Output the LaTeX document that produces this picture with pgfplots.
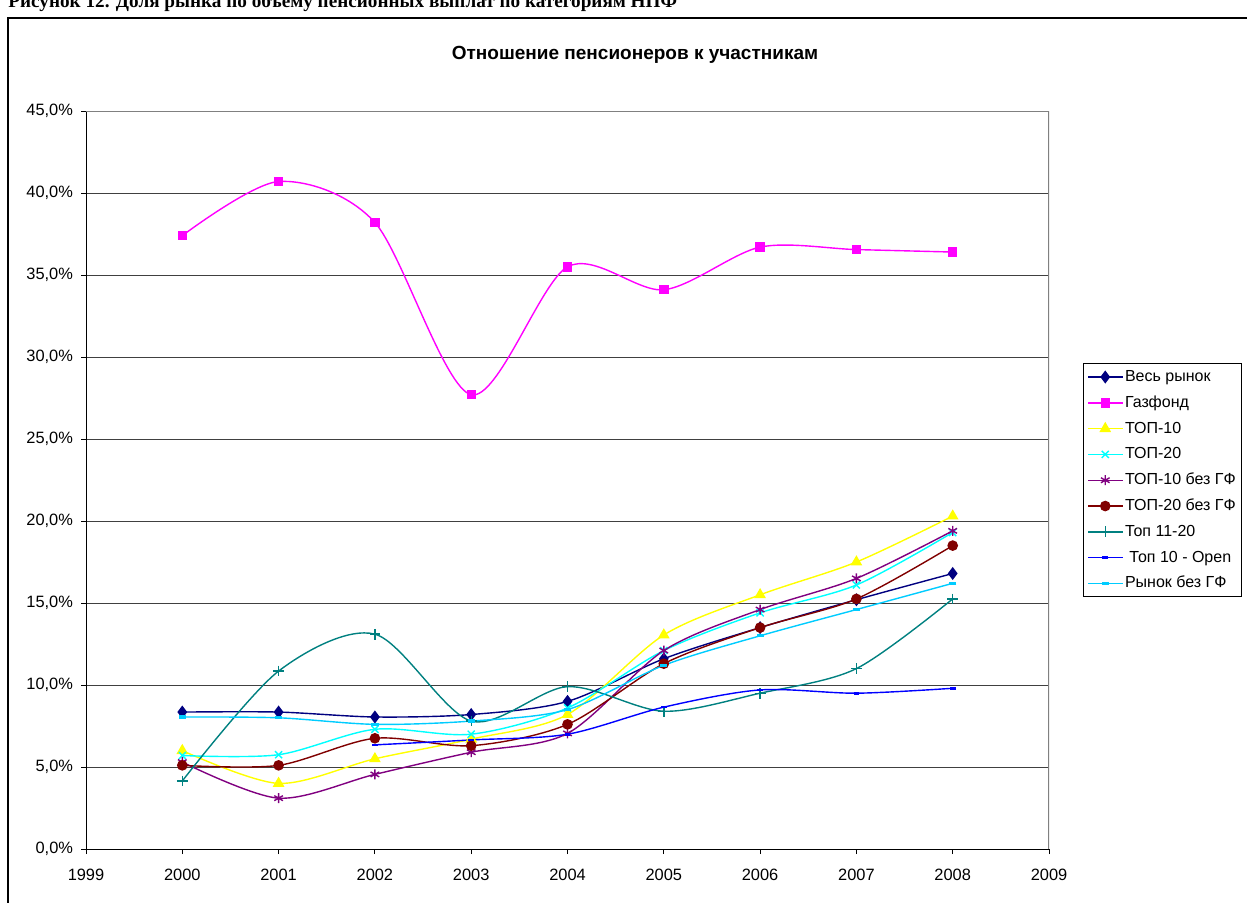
\documentclass[border=0pt]{standalone}
\usepackage{fontspec}
\setmainfont{Liberation Sans}
\newfontfamily\capfont{Liberation Serif}
\usepackage{pgfplots}
\pgfplotsset{compat=1.18}
\definecolor{cNavy}{HTML}{000080}
\definecolor{cMag}{HTML}{FF00FF}
\definecolor{cYel}{HTML}{FFFF00}
\definecolor{cCyan}{HTML}{00FFFF}
\definecolor{cPurp}{HTML}{800080}
\definecolor{cDRed}{HTML}{800000}
\definecolor{cTeal}{HTML}{008080}
\definecolor{cBlue}{HTML}{0000FF}
\definecolor{cSky}{HTML}{00CCFF}
\begin{document}
\begin{tikzpicture}
\useasboundingbox (0pt,0pt) rectangle (623.5pt,-451.5pt);
\clip (0pt,0pt) rectangle (623.5pt,-451.5pt);
\node[anchor=base west,inner sep=0pt,font=\capfont\bfseries\fontsize{9.6pt}{11pt}\selectfont] at (4pt,-3.6pt) {Рисунок 12. Доля рынка по объему пенсионных выплат по категориям НПФ};
\fill[white] (0pt,-7pt) rectangle (623.5pt,-9pt);
\draw[line width=1pt] (4pt,-470pt) -- (4pt,-9pt) -- (640pt,-9pt);
\node[font=\bfseries\fontsize{9.5pt}{10pt}\selectfont] at (317.5pt,-27.3pt) {Отношение пенсионеров к участникам};
\begin{axis}[
  at={(43pt,-424.5pt)}, anchor=south west,
  scale only axis, width=481.5pt, height=369pt,
  xmin=1999, xmax=2009, ymin=0, ymax=45,
  axis x line*=bottom, axis y line*=left,
  axis line style={black, line width=0.5pt},
  tick align=outside, major tick length=2.5pt,
  tick style={black, line width=0.5pt},
  xtick={1999,2000,...,2009},
  xticklabels={1999,2000,2001,2002,2003,2004,2005,2006,2007,2008,2009},
  ytick={0,5,...,45},
  yticklabels={{0,0\%},{5,0\%},{10,0\%},{15,0\%},{20,0\%},{25,0\%},{30,0\%},{35,0\%},{40,0\%},{45,0\%}},
  ticklabel style={font=\fontsize{8.2pt}{9pt}\selectfont},
  xticklabel style={yshift=-3.8pt},
  yticklabel style={xshift=-0.5pt},
  ymajorgrids, major grid style={black!75, line width=0.5pt},
  every axis plot/.append style={line width=0.7pt, smooth, tension=0.5},
  legend style={at={(rel axis cs:1.0353,0.6585)}, anchor=north west,
    draw=black, line width=0.5pt, font=\fontsize{8pt}{9pt}\selectfont,
    nodes={inner sep=1pt, text height=6pt, text depth=1.5pt},
    row sep=3.4pt, inner xsep=2pt, inner ysep=2pt},
  legend cell align=left,
]
\draw[gray, line width=0.7pt] (rel axis cs:0,1) -- (rel axis cs:1,1) -- (rel axis cs:1,0);
\addplot[cNavy, mark=diamond*, mark size=2.7pt, mark options={solid}] coordinates {
(2000,8.35) (2001,8.35) (2002,8.05) (2003,8.2) (2004,9.0) (2005,11.6) (2006,13.5) (2007,15.2) (2008,16.8)};
\addlegendentry{Весь рынок}
\addplot[cMag, mark=square*, mark size=2pt] coordinates {
(2000,37.4) (2001,40.7) (2002,38.2) (2003,27.7) (2004,35.5) (2005,34.1) (2006,36.7) (2007,36.55) (2008,36.4)};
\addlegendentry{Газфонд}
\addplot[cYel, mark=triangle*, mark size=2.7pt] coordinates {
(2000,6.0) (2001,4.0) (2002,5.5) (2003,6.7) (2004,8.2) (2005,13.05) (2006,15.5) (2007,17.5) (2008,20.3)};
\addlegendentry{ТОП-10}
\addplot[cCyan, mark=x, mark size=2.5pt] coordinates {
(2000,5.7) (2001,5.75) (2002,7.3) (2003,7.0) (2004,8.6) (2005,12.1) (2006,14.4) (2007,16.1) (2008,19.3)};
\addlegendentry{ТОП-20}
\addplot[cPurp, mark=asterisk, mark size=2.5pt] coordinates {
(2000,5.3) (2001,3.1) (2002,4.55) (2003,5.9) (2004,7.05) (2005,12.1) (2006,14.6) (2007,16.5) (2008,19.4)};
\addlegendentry{ТОП-10 без ГФ}
\addplot[cDRed, mark=*, mark size=2.3pt] coordinates {
(2000,5.1) (2001,5.1) (2002,6.75) (2003,6.3) (2004,7.6) (2005,11.3) (2006,13.5) (2007,15.25) (2008,18.5)};
\addlegendentry{ТОП-20 без ГФ}
\addplot[cTeal, mark=+, mark size=2.7pt, mark options={cTeal}] coordinates {
(2000,4.15) (2001,10.85) (2002,13.1) (2003,7.8) (2004,9.9) (2005,8.4) (2006,9.5) (2007,11.0) (2008,15.25)};
\addlegendentry{Топ 11-20}
\addplot[cBlue, mark=-, mark size=1.4pt, mark options={line width=1.3pt}] coordinates {
(2002,6.35) (2003,6.65) (2004,7.0) (2005,8.65) (2006,9.7) (2007,9.5) (2008,9.8)};
\addlegendentry{\ Топ 10 - Open}
\addplot[cSky, mark=-, mark size=1.8pt, mark options={line width=1.6pt}] coordinates {
(2000,8.05) (2001,8.0) (2002,7.6) (2003,7.8) (2004,8.5) (2005,11.2) (2006,13.0) (2007,14.6) (2008,16.2)};
\addlegendentry{Рынок без ГФ}
\end{axis}
\end{tikzpicture}
\end{document}
